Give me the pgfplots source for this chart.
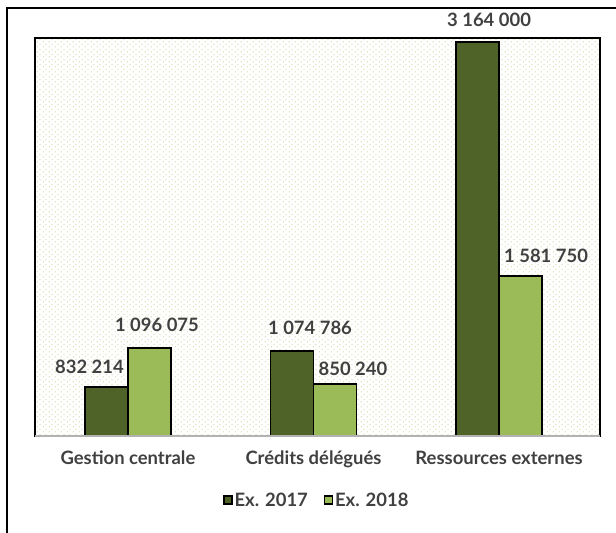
\documentclass[border=0pt]{standalone}
\usepackage{pgfplots}
\pgfplotsset{compat=1.18}
\usepackage{fontspec}
\setmainfont{Lato}
\usetikzlibrary{patterns.meta}
\definecolor{darkg}{HTML}{4F6228}
\definecolor{lightg}{HTML}{9BBB59}
\definecolor{txt}{HTML}{404040}
\definecolor{dotg}{HTML}{D7E4BD}
\tikzdeclarepattern{
  name=mydots,
  type=uncolored,
  bounding box={(0,0) and (6bp,5bp)},
  tile size={(6bp,5bp)},
  code={
    \fill (1bp,0.8bp) rectangle (2.3bp,2.1bp);
    \fill (4bp,3.3bp) rectangle (5.3bp,4.6bp);
  }
}
\newcommand{\lblfont}{\fontsize{18.5}{20}\selectfont\bfseries}
\begin{document}
\begin{tikzpicture}[x=1bp,y=1bp]
\path[use as bounding box] (0,0) rectangle (616,533);
\draw[line width=1.5bp] (7,0) -- (7,525) -- (617,525);
\begin{axis}[
  at={(35bp,97bp)}, anchor=south west,
  scale only axis, width=565bp, height=398bp,
  xmin=-0.501, xmax=2.544, ymin=500000, ymax=3190000,
  ybar=0pt, bar width=43bp,
  axis background/.style={pattern={mydots}, pattern color=dotg},
  axis line style={black, line width=1.2bp},
  ytick=\empty, xtick={0,1,2},
  xticklabels={Gestion centrale, Crédits délégués, Ressources externes},
  major tick length=0pt,
  xticklabel style={font=\lblfont, text=txt, anchor=base, yshift=-29bp},
  legend style={at={(0.499,-0.161)}, anchor=center, draw=none, fill=none,
    legend columns=2, font=\lblfont, text=txt,
    /tikz/every even column/.append style={column sep=14bp},
    nodes={inner xsep=2bp}},
  legend image code/.code={\draw[#1, line width=1.2bp] (0bp,-4bp) rectangle (8bp,4bp);},
  clip mode=individual,
]
\addplot[fill=darkg, draw=black, line width=1.5bp] coordinates {(0,832214) (1,1074786) (2,3164000)};
\addplot[fill=lightg, draw=black, line width=1.5bp] coordinates {(0,1096075) (1,850240) (2,1581750)};
\legend{Ex. 2017, Ex. 2018}
\draw[color=black!30, line width=2bp] (rel axis cs:0,0) -- (rel axis cs:1,0);
\begin{scope}[every node/.style={font=\lblfont, text=txt}]
\node at (axis cs:0,832214) [xshift=-38.5bp, yshift=20bp] {832 214};
\node at (axis cs:0,1096075) [xshift=29bp, yshift=23bp] {1 096 075};
\node at (axis cs:1,1074786) [xshift=-3.5bp, yshift=23bp] {1 074 786};
\node at (axis cs:1,850240) [xshift=39.5bp, yshift=15bp] {850 240};
\node at (axis cs:2,3164000) [xshift=-10bp, yshift=22bp] {3 164 000};
\node at (axis cs:2,1581750) [xshift=47bp, yshift=20bp] {1 581 750};
\end{scope}
\end{axis}
\end{tikzpicture}
\end{document}
